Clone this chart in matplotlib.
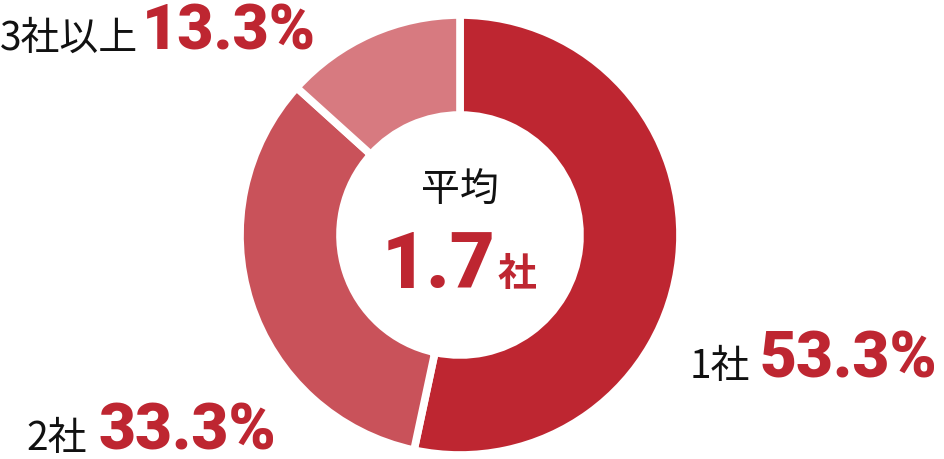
import matplotlib
matplotlib.use("Agg")
import matplotlib.pyplot as plt

plt.rcParams['font.family'] = ['Noto Sans CJK JP', 'DejaVu Sans']

categories = ["1社", "2社", "3社以上"]
shares = [53.3, 33.3, 13.3]
share_labels = ["53.3%", "33.3%", "13.3%"]
colors = ["#BE2631", "#C9525A", "#D77A80"]
center_title = "平均"
center_value = "1.7"
center_unit = "社"

W, H = 945, 459
fig = plt.figure(figsize=(W / 100, H / 100), dpi=100)
ax = fig.add_axes([0, 0, 1, 1])

def Y(y):
    return H - y

ax.pie(shares, colors=colors, startangle=90, counterclock=False,
       center=(460, Y(235)), radius=220, frame=True,
       wedgeprops=dict(width=100, edgecolor="white", linewidth=5.5))
ax.set_xlim(0, W)
ax.set_ylim(0, H)
ax.set_aspect("equal")
ax.axis("off")

red = "#BE2631"
numfont = dict(family=["Roboto", "DejaVu Sans"], weight="black", color=red)
jpfont = dict(family=["Noto Sans CJK JP", "DejaVu Sans"], color="#111111")

# center
ax.text(460, Y(202), center_title, ha="center", va="baseline", fontsize=28, **jpfont)
ax.text(496, Y(288), center_value, ha="right", va="baseline", fontsize=56, **numfont)
ax.text(498, Y(286), center_unit, ha="left", va="baseline", fontsize=28,
        family=["Noto Sans CJK JP"], weight="bold", color=red)

# labels
ax.text(690, Y(378), categories[0], ha="left", va="baseline", fontsize=28, **jpfont)
ax.text(760, Y(378), share_labels[0], ha="left", va="baseline", fontsize=46, **numfont)

ax.text(26, Y(450), categories[1], ha="left", va="baseline", fontsize=28, **jpfont)
ax.text(98, Y(450), share_labels[1], ha="left", va="baseline", fontsize=46, **numfont)

ax.text(0, Y(50), categories[2], ha="left", va="baseline", fontsize=28, **jpfont)
ax.text(142, Y(50), share_labels[2], ha="left", va="baseline", fontsize=45, **numfont)

fig.savefig("out.png", dpi=100, facecolor="white")
